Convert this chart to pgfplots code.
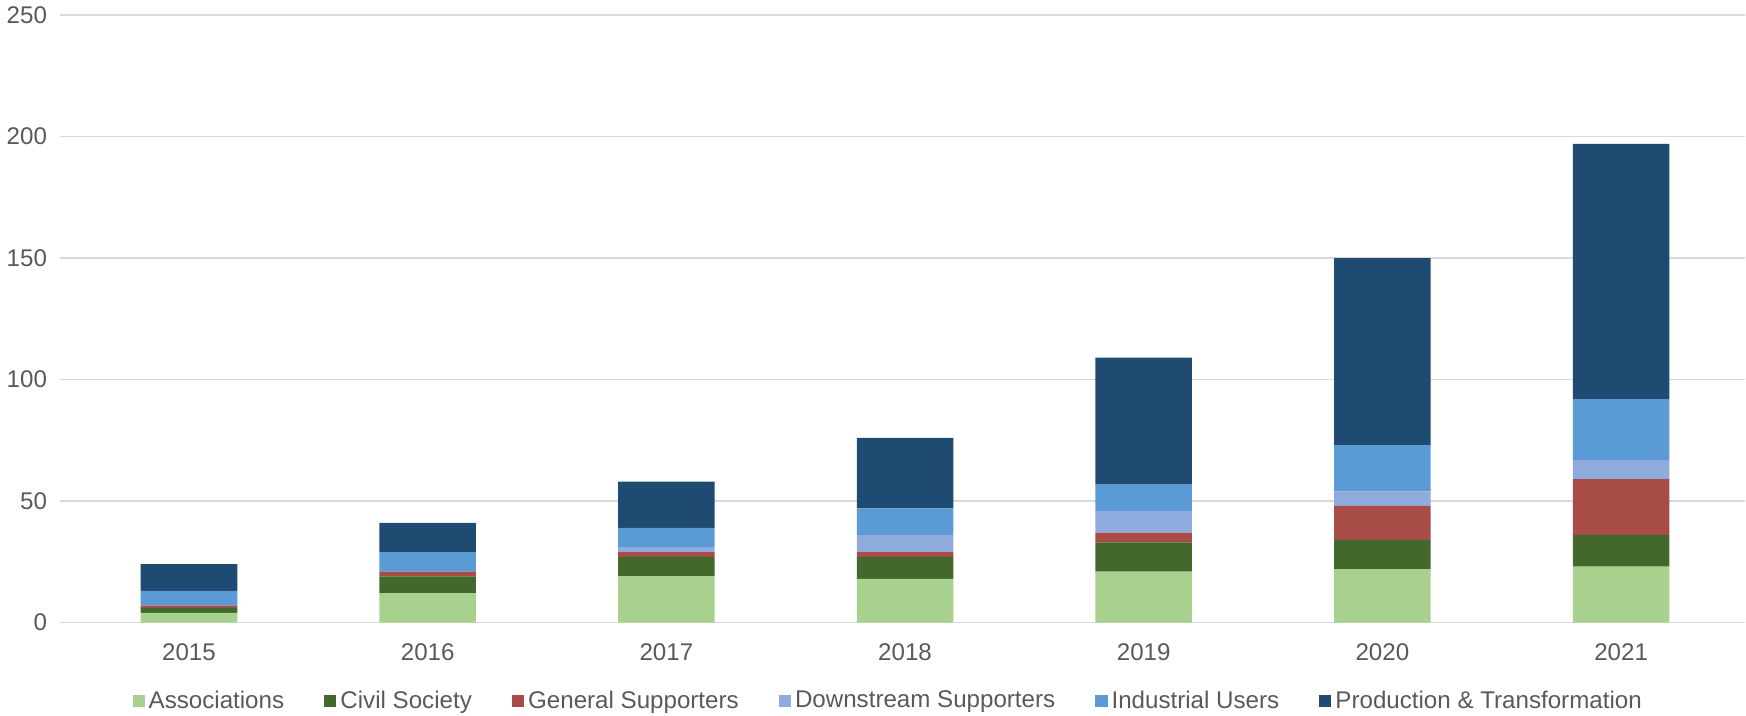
\documentclass[border=0pt]{standalone}
\usepackage{fontspec}
\setmainfont{Liberation Sans}
\usepackage{pgfplots}
\pgfplotsset{compat=1.18}

\definecolor{cAssoc}{HTML}{A9D18E}
\definecolor{cCivil}{HTML}{43682B}
\definecolor{cGeneral}{HTML}{A84C48}
\definecolor{cDown}{HTML}{8FAADC}
\definecolor{cInd}{HTML}{5B9BD5}
\definecolor{cProd}{HTML}{1F4A72}
\definecolor{cText}{HTML}{595959}
\definecolor{cGrid}{HTML}{D9D9D9}

\pgfplotstableread{
x assoc civil general down ind prod
0 4  2  1  0 6  11
1 12 7  2  0 8  12
2 19 8  2  2 8  19
3 18 9  2  7 11 29
4 21 12 4  9 11 52
5 22 12 14 6 19 77
6 23 13 23 8 25 105
}\datatable

\begin{document}
\begin{tikzpicture}
\begin{axis}[
    scale only axis,
    width=838pt, height=302pt,
    ybar stacked,
    bar width=48pt,
    xmin=-0.54, xmax=6.52,
    ymin=0, ymax=250,
    ytick={0,50,...,250},
    xtick=data,
    xticklabels={2015,2016,2017,2018,2019,2020,2021},
    axis line style={draw=none},
    major tick length=0pt,
    ymajorgrids,
    grid style={cGrid, line width=0.8pt},
    tick label style={font=\fontsize{12}{14}\selectfont, text=cText},
    /pgf/number format/assume math mode=true,
    yticklabel style={xshift=-3pt},
    xticklabel style={yshift=-7pt},
    legend columns=6,
    legend style={at={(0.492,-0.105)}, anchor=north, draw=none, fill=none,
        font=\fontsize{12}{14}\selectfont, text=cText,
        /tikz/every even column/.append style={column sep=18pt},
        inner sep=0pt},
    legend image code/.code={\fill[#1] (0pt,-3pt) rectangle (6pt,3pt);},
    legend cell align=left,
]
\addplot[fill=cAssoc, draw=none] table[x=x, y=assoc] {\datatable};
\addplot[fill=cCivil, draw=none] table[x=x, y=civil] {\datatable};
\addplot[fill=cGeneral, draw=none] table[x=x, y=general] {\datatable};
\addplot[fill=cDown, draw=none] table[x=x, y=down] {\datatable};
\addplot[fill=cInd, draw=none] table[x=x, y=ind] {\datatable};
\addplot[fill=cProd, draw=none] table[x=x, y=prod] {\datatable};
\legend{Associations, Civil Society, General Supporters, Downstream Supporters, Industrial Users, Production \& Transformation}
\end{axis}
\end{tikzpicture}
\end{document}
